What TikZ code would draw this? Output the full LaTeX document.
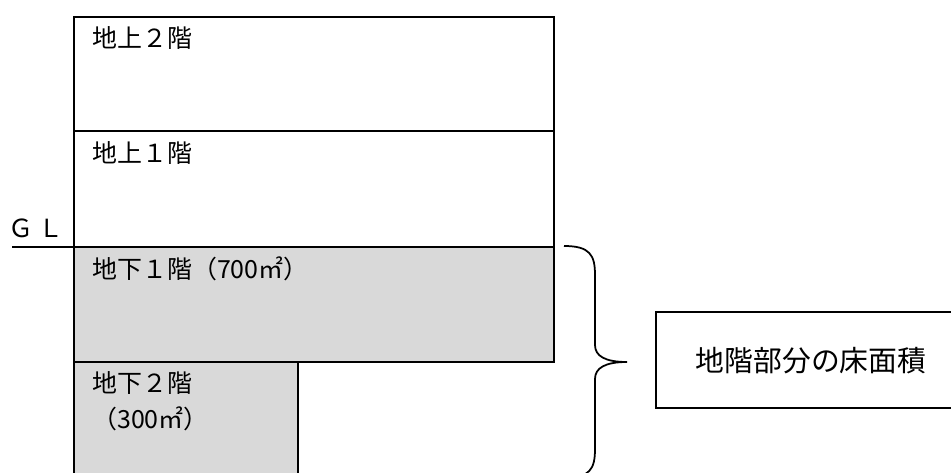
\documentclass[tikz,border=0pt]{standalone}
\usepackage{fontspec}
\setmainfont{Noto Sans CJK JP}
\usetikzlibrary{positioning}
\definecolor{basement}{HTML}{D9D9D9}
\tikzset{
  wall/.style={draw=black, line width=1pt},
  flr/.style={anchor=west, inner sep=0pt, font=\fontsize{14.2pt}{17pt}\selectfont},
}

\begin{document}
\begin{tikzpicture}[x=0.02cm,y=-0.02cm]
\useasboundingbox (0,0) rectangle (951,473);

% floors above ground
\draw[wall] (74,17) rectangle (554,131);
\draw[wall] (74,131) rectangle (554,247);
% basement floors
\filldraw[wall, fill=basement] (74,247) rectangle (554,362);
\filldraw[wall, fill=basement] (74,362) rectangle (298,490);

% ground level
\coordinate (gl) at (74,247);
\coordinate (glend) at (12,247);
\draw[wall] (glend) -- (gl);
\node[flr] (gltext) at (8,228) {Ｇ Ｌ};

\node[flr] (f2) at (92,38) {地上２階};
\node[flr] (f1) at (92,153) {地上１階};
\node[flr] (b1) at (92,269) {地下１階（700㎡）};
\node[flr] (b2) at (92,383) {地下２階};
\node[flr] (b2area) at (92,419) {（300㎡）};

% brace
\coordinate (btop) at (564,246);
\coordinate (tip) at (627,362);
\coordinate (bbot) at (564,478);
\draw[wall] (btop) .. controls (590,246) and (595,255) .. (595,275)
  -- (595,345) .. controls (595,356) and (605,362) .. (tip)
  .. controls (605,362) and (595,368) .. (595,379)
  -- (595,449) .. controls (595,469) and (590,478) .. (bbot);

% floor area box
\draw[wall] (656,312) rectangle (990,408);
\node[flr, anchor=center, font=\fontsize{16.4pt}{19pt}\selectfont] (area) at (811,361) {地階部分の床面積};
\end{tikzpicture}
\end{document}
